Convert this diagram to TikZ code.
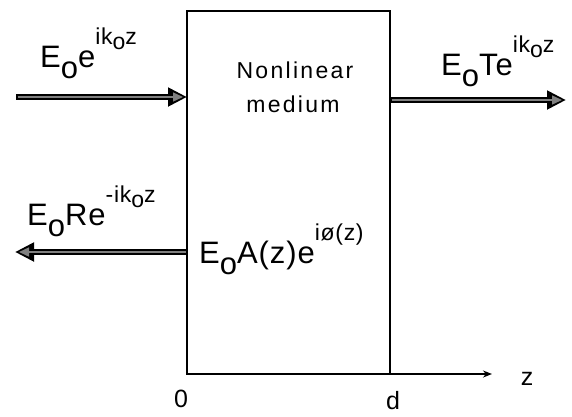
\documentclass[tikz,border=0pt]{standalone}
\usepackage{fontspec}
\setmainfont{Liberation Sans}
\usetikzlibrary{arrows.meta}
\newcommand{\lo}[1]{\raisebox{-0.36em}{#1}}
\newcommand{\hi}[1]{\raisebox{0.72em}{\fontsize{23}{25}\selectfont #1}}
\newcommand{\hlo}[1]{\raisebox{-0.22em}{#1}}
\tikzset{
  lbl/.style={anchor=base west, inner sep=0pt, font=\fontsize{31}{34}\selectfont\addfontfeatures{LetterSpace=3}},
  med/.style={anchor=base, inner sep=0pt, font=\fontsize{23}{26}\selectfont\addfontfeatures{LetterSpace=10}},
  ax/.style={anchor=base, inner sep=0pt, font=\fontsize{25}{28}\selectfont},
  bigarrow/.style={line width=5.5pt, black, -{Triangle[length=19pt,width=18pt]},
    postaction={draw=black!50, line width=1.4pt, shorten <=1.5pt, shorten >=4pt, -{Triangle[length=10pt,width=9pt]}}},
  box/.style={draw, line width=1.2pt},
}
\begin{document}
\begin{tikzpicture}[x=1pt,y=-1pt]
\useasboundingbox (0,0) rectangle (572,416);
\draw[box] (187,11) rectangle (390,374);
\coordinate (inA) at (16,97);
\coordinate (inB) at (187,97);
\coordinate (trA) at (390,100);
\coordinate (trB) at (566,100);
\coordinate (reA) at (187,252);
\coordinate (reB) at (15,252);
\coordinate (axA) at (390,374);
\coordinate (axB) at (492,374);
\draw[bigarrow] (inA) -- (inB);
\draw[bigarrow] (trA) -- (trB);
\draw[bigarrow] (reA) -- (reB);
\draw[line width=1.5pt, -{Stealth[length=9pt,width=7pt]}] (axA) -- (axB);
\node[lbl] (l1) at (40,67) {E\lo{o}e\hi{ik\hlo{o}z}};
\node[lbl] (l2) at (441,75) {E\lo{o}Te\hi{ik\hlo{o}z}};
\node[lbl] (l3) at (27,225) {E\lo{o}Re\hi{-ik\hlo{o}z}};
\node[lbl] (l4) at (199,263) {E\lo{o}A(z)e\hi{iø(z)}};
\node[med] (n1) at (295,78) {Nonlinear};
\node[med] (n2) at (293,112) {medium};
\node[ax] (z) at (527,385) {z};
\node[ax] (zero) at (181,407) {0};
\node[ax] (d) at (393,409) {d};
\end{tikzpicture}
\end{document}
